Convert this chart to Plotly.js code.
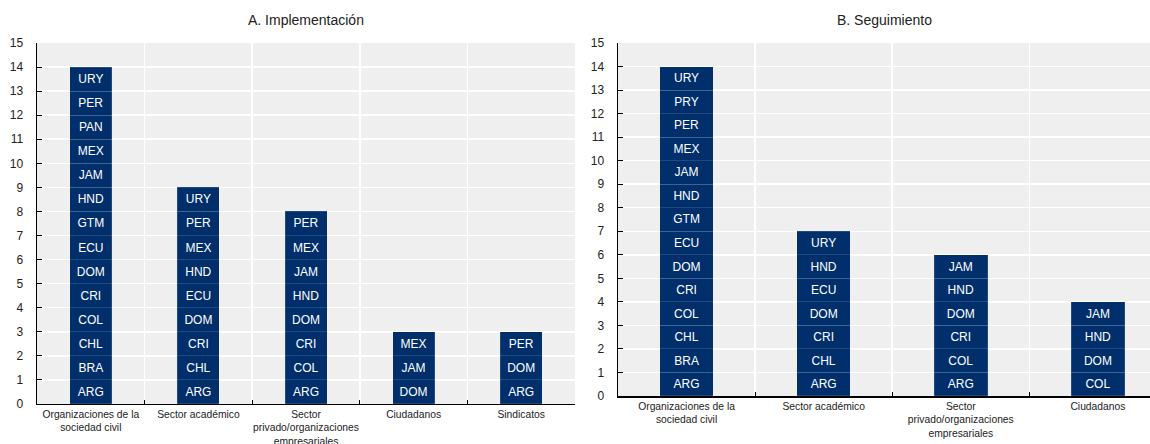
<!DOCTYPE html>
<html>
<head>
<meta charset="utf-8">
<script src="https://cdn.plot.ly/plotly-3.0.1.min.js"></script>
<style>html,body{margin:0;padding:0;background:#fff;}#chart{width:1150px;height:444px;}</style>
</head>
<body>
<div id="chart"></div>
<script>
// ---- Data ----
const categoriesA = ["Organizaciones de la<br>sociedad civil", "Sector académico", "Sector<br>privado/organizaciones<br>empresariales", "Ciudadanos", "Sindicatos"];
const osc_A = ["ARG","BRA","CHL","COL","CRI","DOM","ECU","GTM","HND","JAM","MEX","PAN","PER","URY"];
const academico_A = ["ARG","CHL","CRI","DOM","ECU","HND","MEX","PER","URY"];
const privado_A = ["ARG","COL","CRI","DOM","HND","JAM","MEX","PER"];
const ciudadanos_A = ["DOM","JAM","MEX"];
const sindicatos_A = ["ARG","DOM","PER"];

const categoriesB = ["Organizaciones de la<br>sociedad civil", "Sector académico", "Sector<br>privado/organizaciones<br>empresariales", "Ciudadanos"];
const osc_B = ["ARG","BRA","CHL","COL","CRI","DOM","ECU","GTM","HND","JAM","MEX","PER","PRY","URY"];
const academico_B = ["ARG","CHL","CRI","DOM","ECU","HND","URY"];
const privado_B = ["ARG","COL","CRI","DOM","HND","JAM"];
const ciudadanos_B = ["COL","DOM","HND","JAM"];

const yTicks = [0,1,2,3,4,5,6,7,8,9,10,11,12,13,14,15];

// ---- Build stacked traces: one trace per stack level ----
const BAR = "#002F6C";
const FONT = "Liberation Sans Narrow, Arial Narrow, Liberation Sans, Arial, sans-serif";
function buildTraces(cats, groups, xa, ya) {
  const maxLen = Math.max(...groups.map(g => g.length));
  const traces = [];
  for (let k = 0; k < maxLen; k++) {
    const xs = [], ys = [], ts = [];
    groups.forEach((g, i) => {
      if (g.length > k) { xs.push(cats[i]); ys.push(1); ts.push(g[k]); }
    });
    traces.push({
      type: "bar", x: xs, y: ys, text: ts, xaxis: xa, yaxis: ya,
      textposition: "inside", insidetextanchor: "middle", textangle: 0,
      constraintext: "none",
      textfont: {color: "#ffffff", size: 12, family: FONT},
      marker: {color: BAR, line: {color: "rgba(255,255,255,0.22)", width: 0.6}},
      hoverinfo: "skip", showlegend: false, cliponaxis: false
    });
  }
  return traces;
}

const traces = [
  ...buildTraces(categoriesA, [osc_A, academico_A, privado_A, ciudadanos_A, sindicatos_A], "x", "y"),
  ...buildTraces(categoriesB, [osc_B, academico_B, privado_B, ciudadanos_B], "x2", "y2")
];

function xAxis(domain, range, anchor) {
  return {
    domain: domain, anchor: anchor, type: "category", range: range,
    tickson: "boundaries", ticks: "inside", ticklen: 4, tickcolor: "#000", tickwidth: 1,
    tickangle: 0,
    showgrid: true, gridcolor: "#ffffff", gridwidth: 1.5,
    showline: true, linecolor: "#000", linewidth: 1.5,
    tickfont: {size: 10.3, color: "#222", family: FONT},
    fixedrange: true, zeroline: false
  };
}
function yAxis(domain, anchor) {
  return {
    domain: domain, anchor: anchor, range: [0, 15],
    tickvals: yTicks, ticktext: yTicks.map(String),
    ticks: "inside", ticklen: 5, tickcolor: "#000", tickwidth: 1,
    ticklabelstandoff: 10,
    showgrid: true, gridcolor: "#ffffff", gridwidth: 1.5,
    showline: true, linecolor: "#000", linewidth: 1.5,
    tickfont: {size: 12, color: "#222", family: FONT},
    zeroline: false, fixedrange: true
  };
}

const layout = {
  width: 1150, height: 444,
  margin: {l: 0, r: 0, t: 0, b: 0},
  paper_bgcolor: "#ffffff", plot_bgcolor: "#efefef",
  barmode: "stack", bargap: 0.61,
  font: {family: FONT, color: "#222"},
  xaxis: xAxis([0.0322, 0.5], [-0.5, 4.5], "y"),
  yaxis: yAxis([0.0901, 0.9032], "x"),
  xaxis2: xAxis([0.5374, 1.0], [-0.5, 3.38], "y2"),
  yaxis2: yAxis([0.1081, 0.9032], "x2"),
  annotations: [
    {text: "A. Implementación", xref: "paper", yref: "paper", x: 0.2661, y: 1 - 20/444, xanchor: "center", yanchor: "middle", showarrow: false, font: {size: 14, color: "#222", family: FONT}},
    {text: "B. Seguimiento", xref: "paper", yref: "paper", x: 0.7687, y: 1 - 20/444, xanchor: "center", yanchor: "middle", showarrow: false, font: {size: 14, color: "#222", family: FONT}}
  ]
};

Plotly.newPlot("chart", traces, layout, {staticPlot: true, displayModeBar: false});
</script>
</body>
</html>
